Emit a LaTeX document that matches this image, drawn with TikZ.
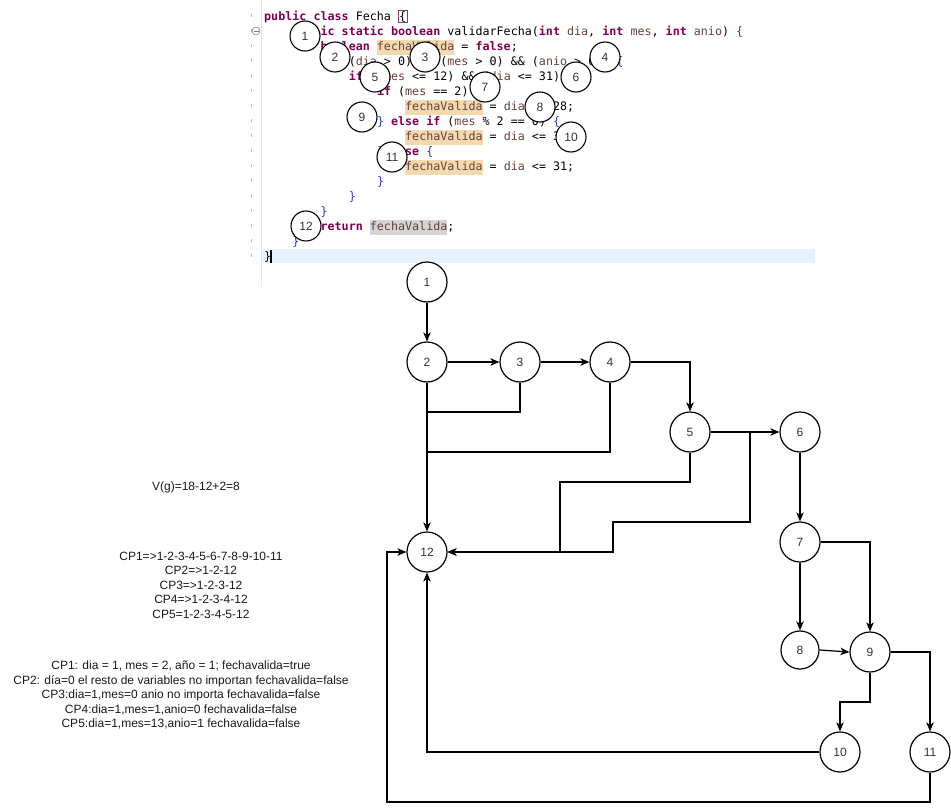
\documentclass[tikz,border=0pt]{standalone}
\usepackage{fontspec}
\usetikzlibrary{arrows.meta}
\setmainfont{Liberation Sans}
\newfontfamily\codefont{DejaVu Sans Mono}

\definecolor{kwc}{HTML}{7F0055}
\definecolor{varc}{HTML}{6A3E3E}
\definecolor{brc}{HTML}{2A3FA8}
\definecolor{occw}{HTML}{F2D9AE}
\definecolor{occr}{HTML}{D4D4D4}
\definecolor{curline}{HTML}{E8F2FE}
\definecolor{brk}{HTML}{8C3A6A}
\definecolor{gut}{HTML}{A8BCD6}
\definecolor{lbl}{HTML}{333333}
\definecolor{ink}{HTML}{1A1A1A}

% Java syntax colouring
\newcommand\kw[1]{\textcolor{kwc}{\bfseries #1}}
\newcommand\cvar[1]{\textcolor{varc}{#1}}
\newcommand\cbr[1]{\textcolor{brc}{#1}}
\newcommand\occw[1]{{\setlength\fboxsep{0pt}\colorbox{occw}{\strut\cvar{#1}}}}
\newcommand\occr[1]{{\setlength\fboxsep{0pt}\colorbox{occr}{\strut\cvar{#1}}}}
\newcommand\brbox[1]{{\setlength\fboxsep{0.4pt}\setlength\fboxrule{0.8pt}\fcolorbox{brk}{white}{#1}}}

\begin{document}
\begin{tikzpicture}[x=1pt,y=-1pt,
  gnode/.style={circle, draw, line width=1.2pt, minimum size=40pt, inner sep=0pt,
    fill=white, text=lbl, font=\fontsize{12}{14}\selectfont},
  cnode/.style={circle, draw, line width=1.1pt, minimum size=30pt, inner sep=0pt,
    fill=white, text=lbl, font=\fontsize{12}{14}\selectfont},
  arr/.style={line width=1.2pt, -{Stealth[length=9pt,width=7.5pt,inset=2.5pt]}},
  link/.style={line width=1.2pt},
  codeline/.style={anchor=base west, inner sep=0pt,
    font=\codefont\fontsize{11.7}{15}\selectfont},
  note/.style={align=center, inner sep=0pt, text=ink,
    font=\fontsize{12}{14.5}\selectfont}]

\useasboundingbox (0,0) rectangle (951,811);
\fill[white] (0,0) rectangle (951,811);

% ---------- editor ----------
\fill[curline] (262,249) rectangle (815,263);
\draw[black!10, line width=0.8pt] (261.5,0) -- (261.5,287);
\foreach \yy in {16,31,...,256} {
  \fill[gut] (250.5,\yy-2) rectangle (251.5,\yy+1);
}
\draw[gray, line width=0.6pt, fill=white] (256,31) circle (4);
\draw[gray, line width=0.8pt] (253.5,31) -- (258.5,31);

\node[codeline] (c1)  at (264.0, 20)  {\kw{public} \kw{class} Fecha \brbox{\{}};
\node[codeline] (c2)  at (292.2, 35)  {\kw{public} \kw{static} \kw{boolean} validarFecha(\kw{int} \cvar{dia}, \kw{int} \cvar{mes}, \kw{int} \cvar{anio}) \cbr{\{}};
\node[codeline] (c3)  at (320.4, 50)  {\kw{boolean} \occw{fechaValida} = \kw{false};};
\node[codeline] (c4)  at (320.4, 65)  {\kw{if} ((\cvar{dia} > 0) \&\& (\cvar{mes} > 0) \&\& (\cvar{anio} > 0)) \cbr{\{}};
\node[codeline] (c5)  at (348.6, 80)  {\kw{if} ((\cvar{mes} <= 12) \&\& (\cvar{dia} <= 31)) \cbr{\{}};
\node[codeline] (c6)  at (376.8, 95)  {\kw{if} (\cvar{mes} == 2) \cbr{\{}};
\node[codeline] (c7)  at (405.0, 110) {\occw{fechaValida} = \cvar{dia} <= 28;};
\node[codeline] (c8)  at (376.8, 125) {\cbr{\}} \kw{else} \kw{if} (\cvar{mes} \% 2 == 0) \cbr{\{}};
\node[codeline] (c9)  at (405.0, 140) {\occw{fechaValida} = \cvar{dia} <= 30;};
\node[codeline] (c10) at (376.8, 155) {\cbr{\}} \kw{else} \cbr{\{}};
\node[codeline] (c11) at (405.0, 170) {\occw{fechaValida} = \cvar{dia} <= 31;};
\node[codeline] (c12) at (376.8, 185) {\cbr{\}}};
\node[codeline] (c13) at (348.6, 200) {\cbr{\}}};
\node[codeline] (c14) at (320.4, 215) {\cbr{\}}};
\node[codeline] (c15) at (320.4, 230) {\kw{return} \occr{fechaValida};};
\node[codeline] (c16) at (292.2, 245) {\cbr{\}}};
\node[codeline] (c17) at (264.0, 260) {\}};
\fill[black] (270,249.5) rectangle (271.6,262.5);

% statement markers over the code
\node[cnode] (m1)  at (305,36)  {1};
\node[cnode] (m2)  at (335,57)  {2};
\node[cnode] (m3)  at (425,57)  {3};
\node[cnode] (m4)  at (605,57)  {4};
\node[cnode] (m5)  at (375,77)  {5};
\node[cnode] (m6)  at (576,77)  {6};
\node[cnode] (m7)  at (485,87)  {7};
\node[cnode] (m8)  at (540,107) {8};
\node[cnode] (m9)  at (362,117) {9};
\node[cnode] (m10) at (571,137) {10};
\node[cnode] (m11) at (392,157) {11};
\node[cnode] (m12) at (306,226) {12};

% ---------- flow graph ----------
\node[gnode] (n1)  at (427,282) {1};
\node[gnode] (n2)  at (427,362) {2};
\node[gnode] (n3)  at (520,362) {3};
\node[gnode] (n4)  at (610,362) {4};
\node[gnode] (n5)  at (690,432) {5};
\node[gnode] (n6)  at (800,432) {6};
\node[gnode] (n7)  at (800,542) {7};
\node[gnode, minimum size=38pt] (n8) at (800,650) {8};
\node[gnode] (n9)  at (870,652) {9};
\node[gnode] (n10) at (840,752) {10};
\node[gnode] (n11) at (930,752) {11};
\node[gnode] (n12) at (427,552) {12};

\coordinate (j3)  at (427,412);
\coordinate (j4)  at (427,452);
\coordinate (j56) at (750,432);

\draw[arr] (n1) -- (n2);
\draw[arr] (n2) -- (n3);
\draw[arr] (n3) -- (n4);
\draw[arr] (n4.east) -| (n5.north);
\draw[arr] (n2.south) -- (n12.north);
\draw[link] (n3.south) |- (j3);
\draw[link] (n4.south) |- (j4);
\draw[arr] (n5) -- (n6);
\draw[arr] (n5.south) |- (560,482) -- (560,552) -- (n12.east);
\draw[arr] (j56) -- (750,522) -- (613,522) -- (613,552) -- (n12.east);
\draw[arr] (n6) -- (n7);
\draw[arr] (n7) -- (n8);
\draw[arr] (n7.east) -| (n9.north);
\draw[arr] (n8.east) -- (n9.west);
\draw[arr] (n9.south) -- (870,702) -| (n10.north);
\draw[arr] (n9.east) -| (n11.north);
\draw[arr] (n10.west) -| (n12.south);
\draw[arr] (n11.south) |- (387,802) -- (387,552) -- (n12.west);

% ---------- notes ----------
\node[note] (vg) at (196,487) {V(g)=18-12+2=8};
\node[note] (cp) at (201,585) {CP1=>1-2-3-4-5-6-7-8-9-10-11\\CP2=>1-2-12\\CP3=>1-2-3-12\\CP4=>1-2-3-4-12\\CP5=1-2-3-4-5-12};
\node[note] (tc) at (181,695) {CP1: dia = 1, mes = 2, año = 1; fechavalida=true\\CP2: día=0 el resto de variables no importan fechavalida=false\\CP3:dia=1,mes=0 anio no importa fechavalida=false\\CP4:dia=1,mes=1,anio=0 fechavalida=false\\CP5:dia=1,mes=13,anio=1 fechavalida=false};
\end{tikzpicture}
\end{document}
